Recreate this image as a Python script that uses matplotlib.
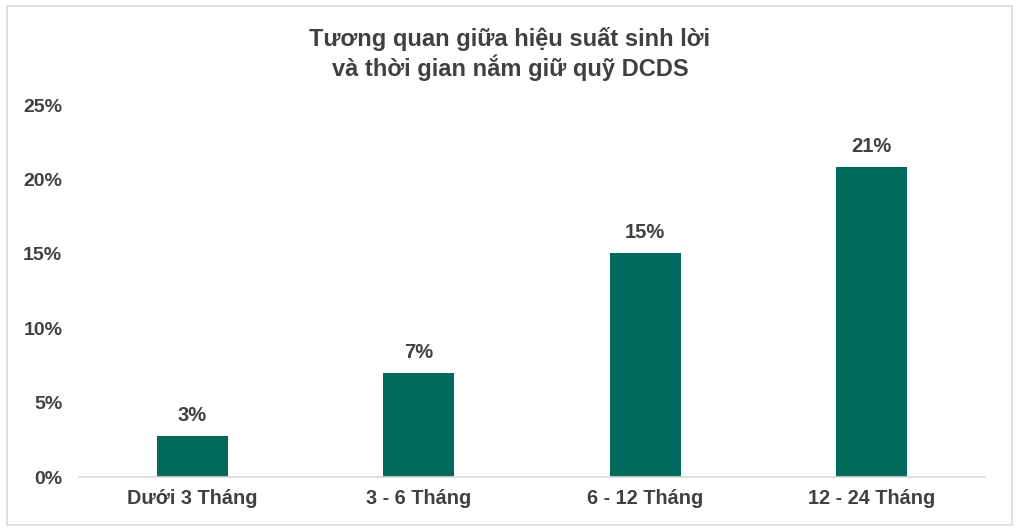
import matplotlib
matplotlib.use("Agg")
import matplotlib.pyplot as plt
from matplotlib.ticker import FuncFormatter
from matplotlib.patches import Rectangle

categories = ["Dưới 3 Tháng", "3 - 6 Tháng", "6 - 12 Tháng", "12 - 24 Tháng"]
values = [2.75, 7.0, 15.05, 20.85]
labels = ["3%", "7%", "15%", "21%"]
yticks = [0, 5, 10, 15, 20, 25]

plt.rcParams['font.family'] = ['Liberation Sans', 'DejaVu Sans']
txt = '#404040'
bar_color = '#006B5A'

fig = plt.figure(figsize=(10.2, 5.31), dpi=100)
fig.patches.append(Rectangle((7/1020, 6/531), 1005/1020, 519/531, transform=fig.transFigure,
                             fill=False, edgecolor='#D9D9D9', linewidth=1.2))
ax = fig.add_axes([79/1020, 1 - 477/531, 906/1020, 372/531])
x = range(len(categories))
ax.bar(x, values, width=0.315, color=bar_color)
ax.set_xlim(-0.5, len(categories) - 0.5)
ax.set_ylim(0, 25)
ax.set_yticks(yticks)
ax.yaxis.set_major_formatter(FuncFormatter(lambda v, p: f"{int(v)}%"))
ax.set_xticks(list(x))
ax.set_xticklabels(categories)
for s in ['top', 'right', 'left']:
    ax.spines[s].set_visible(False)
ax.spines['bottom'].set_color('#D9D9D9')
ax.spines['bottom'].set_linewidth(1.2)
ax.tick_params(axis='both', length=0, colors=txt)
ax.tick_params(axis='y', labelsize=14, pad=12)
ax.tick_params(axis='x', labelsize=14.3, pad=9)
for lbl in ax.get_xticklabels() + ax.get_yticklabels():
    lbl.set_fontweight('bold')
for xi, v, l in zip(x, values, labels):
    ax.annotate(l, (xi, v), xytext=(0, 8), textcoords='offset points', ha='center', va='bottom',
                fontsize=14.5, fontweight='bold', color=txt)
fig.text(0.5, 1 - 54/531, "Tương quan giữa hiệu suất sinh lời\nvà thời gian nắm giữ quỹ DCDS",
         ha='center', va='center', fontsize=17, fontweight='bold', color=txt, linespacing=1.2)
fig.savefig("out.png", dpi=100)
